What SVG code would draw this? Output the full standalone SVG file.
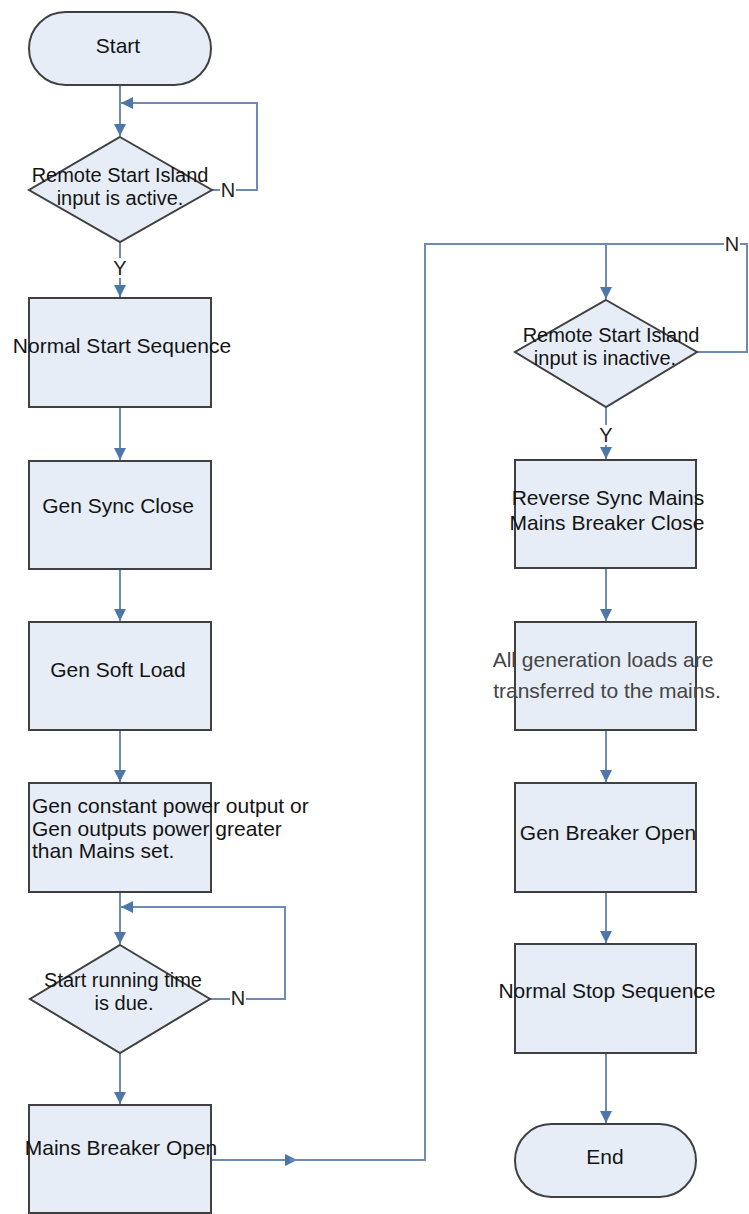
<svg xmlns="http://www.w3.org/2000/svg" width="749" height="1214" viewBox="0 0 749 1214">
<style>
.shape{fill:#e6edf7;stroke:#404040;stroke-width:2}
.con{fill:none;stroke:#6e8cb3;stroke-width:2}
.t{font-family:"Liberation Sans",Arial,sans-serif;font-size:21px;fill:#141414;text-anchor:middle}
.d{font-size:20px}
.tl{text-anchor:start}
.g{fill:#454545}
.lbl{font-family:"Liberation Sans",Arial,sans-serif;font-size:20px;fill:#222;text-anchor:middle}
.bg{fill:#ffffff}
</style>
<defs>
<marker id="ah" markerUnits="userSpaceOnUse" markerWidth="13" markerHeight="12" refX="12" refY="6" orient="auto" viewBox="0 0 13 12">
<path d="M0,0 L12,6 L0,12 z" fill="#4d77a8"/>
</marker>
</defs>
<rect width="749" height="1214" fill="#ffffff"/>

<g id="connectors">
<path class="con" d="M120,85 L120,136" marker-end="url(#ah)"/>
<path class="con" d="M212,190 L257,190 L257,103 L121,103" marker-end="url(#ah)"/>
<path class="con" d="M120,242 L120,297" marker-end="url(#ah)"/>
<path class="con" d="M120,407 L120,460" marker-end="url(#ah)"/>
<path class="con" d="M120,569 L120,621" marker-end="url(#ah)"/>
<path class="con" d="M120,730 L120,782" marker-end="url(#ah)"/>
<path class="con" d="M120,892 L120,944" marker-end="url(#ah)"/>
<path class="con" d="M210,999 L285,999 L285,907 L121,907" marker-end="url(#ah)"/>
<path class="con" d="M120,1053 L120,1104" marker-end="url(#ah)"/>
<path class="con" d="M211,1160 L297,1160" marker-end="url(#ah)"/>
<path class="con" d="M290,1160 L425,1160 L425,244 L606,244 L606,299" marker-end="url(#ah)"/>
<path class="con" d="M697,352 L747,352 L747,244 L606,244"/>
<path class="con" d="M606,407 L606,459" marker-end="url(#ah)"/>
<path class="con" d="M606,568 L606,621" marker-end="url(#ah)"/>
<path class="con" d="M606,730 L606,782" marker-end="url(#ah)"/>
<path class="con" d="M606,892 L606,943" marker-end="url(#ah)"/>
<path class="con" d="M606,1053 L606,1123" marker-end="url(#ah)"/>
<rect class="bg" x="220" y="180" width="16" height="20"/>
<text class="lbl" x="228" y="197">N</text>
<rect class="bg" x="112" y="258" width="16" height="20"/>
<text class="lbl" x="120" y="275">Y</text>
<rect class="bg" x="230" y="988" width="16" height="20"/>
<text class="lbl" x="238" y="1005">N</text>
<rect class="bg" x="724" y="234" width="16" height="20"/>
<text class="lbl" x="732" y="251">N</text>
<rect class="bg" x="598" y="425" width="16" height="20"/>
<text class="lbl" x="606" y="442">Y</text>
</g>

<g id="start">
<rect class="shape" x="29" y="12" width="182" height="73" rx="36.5" ry="36.5"/>
<text class="t" x="118" y="53">Start</text>
</g>

<g id="dec-remote-active">
<polygon class="shape" points="120,137 212,190 120,242 29,190"/>
<text class="t d" x="120" y="182">Remote Start Island</text>
<text class="t d" x="120" y="205">input is active.</text>
</g>

<g id="normal-start">
<rect class="shape" x="29" y="298" width="182" height="109"/>
<text class="t" x="122" y="353">Normal Start Sequence</text>
</g>

<g id="gen-sync-close">
<rect class="shape" x="29" y="461" width="182" height="108"/>
<text class="t" x="118" y="513">Gen Sync Close</text>
</g>

<g id="gen-soft-load">
<rect class="shape" x="29" y="622" width="182" height="108"/>
<text class="t" x="118" y="677">Gen Soft Load</text>
</g>

<g id="gen-constant">
<rect class="shape" x="29" y="783" width="182" height="109"/>
<text class="t tl" x="32" y="813">Gen constant power output or</text>
<text class="t tl" x="32" y="836">Gen outputs power greater</text>
<text class="t tl" x="32" y="858">than Mains set.</text>
</g>

<g id="dec-running-time">
<polygon class="shape" points="120,945 210,999 120,1053 30,999"/>
<text class="t d" x="123" y="987">Start running time</text>
<text class="t d" x="124" y="1010">is due.</text>
</g>

<g id="mains-breaker-open">
<rect class="shape" x="29" y="1105" width="182" height="108"/>
<text class="t" x="121" y="1155">Mains Breaker Open</text>
</g>

<g id="dec-remote-inactive">
<polygon class="shape" points="606,300 697,352 606,407 515,352"/>
<text class="t d" x="611" y="342">Remote Start Island</text>
<text class="t d" x="605" y="365">input is inactive.</text>
</g>

<g id="reverse-sync">
<rect class="shape" x="515" y="460" width="181" height="108"/>
<text class="t" x="608" y="505">Reverse Sync Mains</text>
<text class="t" x="607" y="530">Mains Breaker Close</text>
</g>

<g id="loads-transferred">
<rect class="shape" x="515" y="622" width="181" height="108"/>
<text class="t g" x="603" y="667">All generation loads are</text>
<text class="t g" x="607" y="698">transferred to the mains.</text>
</g>

<g id="gen-breaker-open">
<rect class="shape" x="515" y="783" width="181" height="109"/>
<text class="t" x="608" y="840">Gen Breaker Open</text>
</g>

<g id="normal-stop">
<rect class="shape" x="515" y="944" width="181" height="109"/>
<text class="t" x="607" y="998">Normal Stop Sequence</text>
</g>

<g id="end">
<rect class="shape" x="515" y="1124" width="181" height="73" rx="36.5" ry="36.5"/>
<text class="t" x="605" y="1164">End</text>
</g>
</svg>
